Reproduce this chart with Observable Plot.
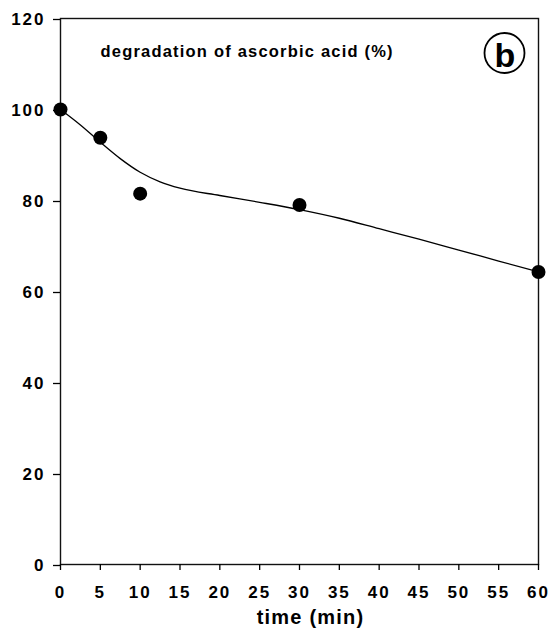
<!DOCTYPE html>
<html>
<head>
<meta charset="utf-8">
<script src="https://cdn.jsdelivr.net/npm/d3@7"></script>
<script src="https://cdn.jsdelivr.net/npm/@observablehq/plot@0.6"></script>
<style>
  html, body { margin: 0; padding: 0; background: white; }
</style>
</head>
<body>
<div id="chart"></div>
<script>
const time = [0, 5, 10, 30, 60];
const degradation = [100, 93.8, 81.5, 79, 64.3];
const fitTime = [0, 2.5, 5, 7.5, 10, 12.5, 15, 20, 25, 30, 35, 40, 45, 50, 55, 60];
const fitValue = [100, 96.6, 92.8, 89.2, 86.2, 84.1, 82.7, 81.1, 79.6, 78.0, 76.1, 73.8, 71.5, 69.1, 66.7, 64.3];
const xTicks = [0, 5, 10, 15, 20, 25, 30, 35, 40, 45, 50, 55, 60];
const yTicks = [0, 20, 40, 60, 80, 100, 120];
const titleText = "degradation of ascorbic acid (%)";
const xLabel = "time (min)";
const panelLabel = "b";

const points = time.map((t, i) => ({t, v: degradation[i]}));
const fit = fitTime.map((t, i) => ({t, v: fitValue[i]}));

const chart = Plot.plot({
  width: 552,
  height: 631,
  marginLeft: 60,
  marginRight: 14,
  marginTop: 18,
  marginBottom: 67,
  x: {domain: [0, 60]},
  y: {domain: [0, 120]},
  style: {fontFamily: "'Liberation Sans', Arial, sans-serif", fontWeight: "bold", background: "white", color: "black"},
  marks: [
    Plot.frame({stroke: "#111", strokeWidth: 1.4}),
    Plot.axisY(yTicks, {tickSize: 7, tickPadding: 8, fontSize: 17, label: null, strokeWidth: 1.3, dy: 1}),
    Plot.axisX(xTicks, {tickSize: 6, tickPadding: 15, fontSize: 17, label: null, strokeWidth: 1.3}),
    Plot.line(fit, {x: "t", y: "v", curve: "monotone-x", stroke: "black", strokeWidth: 1.3}),
    Plot.dot(points, {x: "t", y: "v", r: 7, fill: "black", stroke: "none"}),
    Plot.text([titleText], {frameAnchor: "top-left", dx: 40, dy: 33.7, textAnchor: "start", lineAnchor: "middle", fontSize: 16.5, fontWeight: "bold"}),
    Plot.text([xLabel], {frameAnchor: "bottom", dx: 11, dy: 52.6, textAnchor: "middle", lineAnchor: "middle", fontSize: 20, fontWeight: "bold"}),
    Plot.dot([panelLabel], {frameAnchor: "top-right", dx: -34, dy: 34.5, r: 20, stroke: "black", strokeWidth: 1.8, fill: "none"}),
    Plot.text([panelLabel], {frameAnchor: "top-right", dx: -33.5, dy: 37.8, textAnchor: "middle", lineAnchor: "middle", fontSize: 34, fontWeight: "bold"})
  ]
});

d3.select(chart).selectAll("text").each(function() {
  const s = this.textContent;
  if (s === titleText) this.setAttribute("letter-spacing", "1.2");
  else if (s === xLabel) this.setAttribute("letter-spacing", "1.2");
  else if (/^\d+$/.test(s)) this.setAttribute("letter-spacing", "2");
});

document.getElementById("chart").appendChild(chart);
</script>
</body>
</html>
